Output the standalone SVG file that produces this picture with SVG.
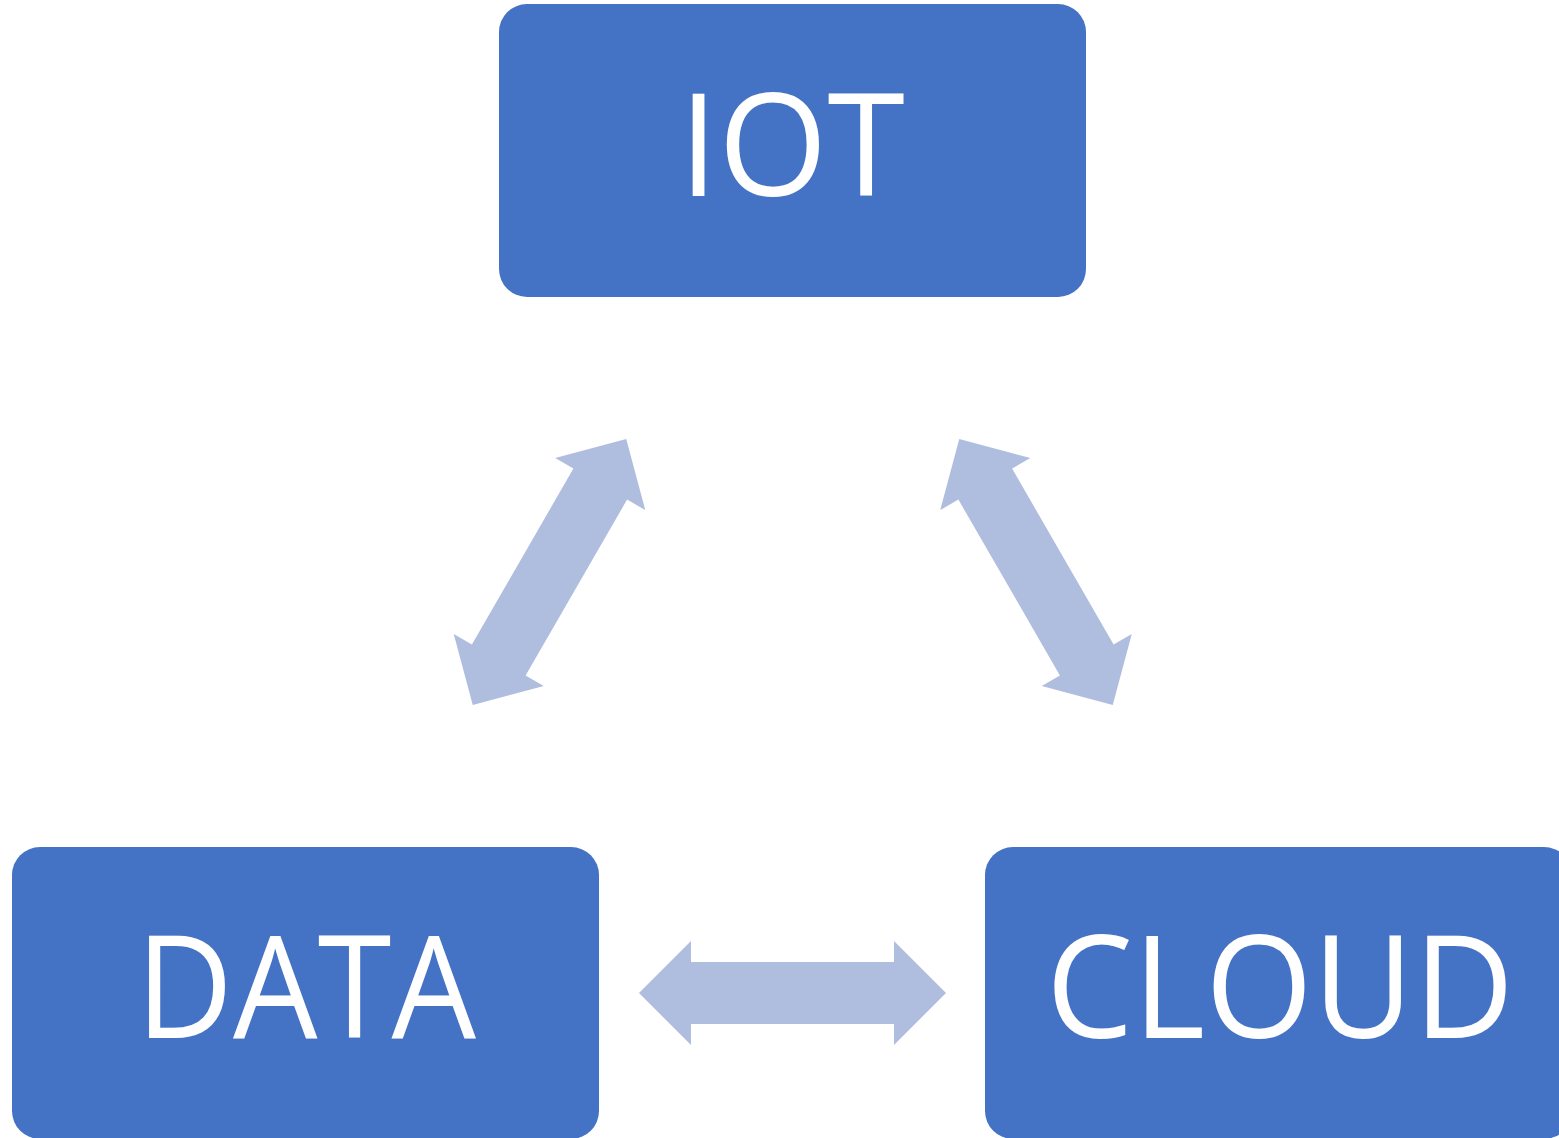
<svg xmlns="http://www.w3.org/2000/svg" width="1559" height="1138" viewBox="0 0 1559 1138">
  <style>
    .box { fill: #4472C4; }
    .label { fill: #FFFFFF; font-family: "Open Sans", "Noto Sans", "Liberation Sans", sans-serif; font-size: 143px; text-anchor: middle; }
    .link { fill: #AFBDDF; }
  </style>
  <defs>
    <!-- double-headed block arrow, 307 long, centred on the origin -->
    <path id="dbl-arrow" d="M -153.5,0 L -101.5,-52 L -101.5,-31 L 101.5,-31 L 101.5,-52 L 153.5,0 L 101.5,52 L 101.5,31 L -101.5,31 L -101.5,52 Z"/>
  </defs>
  <rect width="1559" height="1138" fill="#FFFFFF"/>

  <g id="connectors">
    <use href="#dbl-arrow" class="link" transform="translate(549.5,572) rotate(-60)"/>
    <use href="#dbl-arrow" class="link" transform="translate(1036,572) rotate(60)"/>
    <use href="#dbl-arrow" class="link" transform="translate(792.5,993)"/>
  </g>

  <g id="node-iot">
    <rect class="box" x="499" y="4" width="587" height="293" rx="28" ry="28"/>
    <text class="label" x="792" y="196" textLength="226" lengthAdjust="spacingAndGlyphs">IOT</text>
  </g>

  <g id="node-data">
    <rect class="box" x="12" y="847" width="587" height="292" rx="28" ry="28"/>
    <text class="label" x="306" y="1038" textLength="340" lengthAdjust="spacingAndGlyphs">DATA</text>
  </g>

  <g id="node-cloud">
    <rect class="box" x="985" y="847" width="587" height="292" rx="28" ry="28"/>
    <text class="label" x="1280" y="1038" textLength="468" lengthAdjust="spacingAndGlyphs">CLOUD</text>
  </g>
</svg>
